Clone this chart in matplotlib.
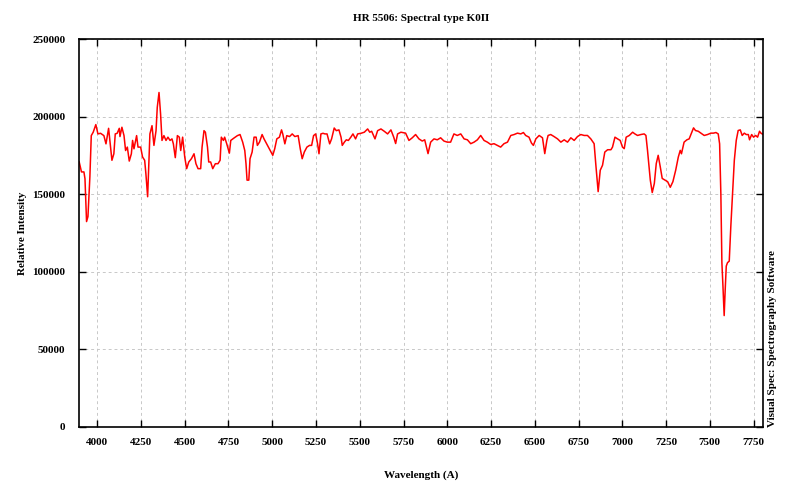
import matplotlib
matplotlib.use('Agg')
import matplotlib.pyplot as plt

# wavelength (A) and relative intensity
wavelength = [
    3897, 3910, 3924, 3930, 3939, 3947, 3958, 3966, 3977, 3992, 4004, 4019, 4038, 4050,
    4065, 4072, 4084, 4095, 4103, 4114, 4126, 4130, 4141, 4153, 4162, 4172, 4183, 4195,
    4202, 4210, 4225, 4233, 4248, 4259, 4271, 4278, 4288, 4297, 4301, 4313, 4324, 4336,
    4343, 4353, 4362, 4370, 4381, 4393, 4404, 4416, 4427, 4435, 4446, 4458, 4469, 4477,
    4488, 4500, 4511, 4523, 4538, 4553, 4564, 4576, 4591, 4599, 4610, 4618, 4630, 4637,
    4648, 4660, 4675, 4690, 4702, 4709, 4721, 4728, 4740, 4755, 4763, 4782, 4801, 4816,
    4831, 4843, 4850, 4856, 4866, 4873, 4885, 4896, 4908, 4915, 4927, 4942, 4953, 4973,
    4988, 5003, 5014, 5026, 5041, 5053, 5060, 5072, 5083, 5099, 5114, 5129, 5148, 5160,
    5171, 5183, 5198, 5213, 5225, 5236, 5248, 5259, 5267, 5278, 5290, 5301, 5313, 5328,
    5339, 5354, 5366, 5381, 5393, 5400, 5412, 5423, 5435, 5449, 5461, 5476, 5488, 5507,
    5526, 5545, 5557, 5568, 5587, 5602, 5621, 5640, 5659, 5678, 5694, 5705, 5716, 5735,
    5762, 5781, 5800, 5819, 5838, 5857, 5871, 5890, 5905, 5924, 5943, 5962, 5981, 6000,
    6019, 6038, 6057, 6077, 6096, 6115, 6134, 6153, 6172, 6191, 6210, 6229, 6248, 6267,
    6286, 6305, 6324, 6344, 6363, 6382, 6401, 6420, 6435, 6448, 6467, 6481, 6492, 6506,
    6525, 6544, 6557, 6569, 6576, 6591, 6610, 6630, 6649, 6668, 6687, 6706, 6725, 6744,
    6763, 6782, 6801, 6820, 6839, 6849, 6862, 6874, 6887, 6900, 6916, 6935, 6944, 6958,
    6973, 6988, 7001, 7011, 7022, 7040, 7059, 7072, 7087, 7106, 7125, 7135, 7144, 7160,
    7171, 7183, 7194, 7205, 7217, 7228, 7244, 7259, 7274, 7289, 7305, 7320, 7331, 7338,
    7353, 7369, 7382, 7395, 7407, 7418, 7434, 7449, 7468, 7487, 7506, 7521, 7535, 7548,
    7556, 7563, 7569, 7575, 7582, 7588, 7594, 7601, 7611, 7620, 7630, 7640, 7651, 7662,
    7674, 7685, 7697, 7708, 7720, 7727, 7739, 7750, 7762, 7773, 7784, 7792, 7805,
]
intensity = [
    170800, 164400, 164400, 160000, 132400, 135600, 161200, 187800, 190000, 194900, 188900, 189300, 187800, 182500,
    192500, 184700, 171900, 176100, 188900, 189300, 192500, 187200, 193200, 187800, 178200, 180400, 171400, 176100,
    184700, 179300, 187800, 180400, 180400, 174000, 171900, 163300, 148400, 176100, 188900, 194200, 181500, 191000,
    206000, 215600, 201700, 184700, 187800, 184700, 186800, 184700, 185700, 182500, 173600, 187800, 186800, 178200,
    186800, 174000, 166500, 170800, 172900, 176100, 169700, 166500, 166500, 180400, 191000, 190000, 180400, 170800,
    170800, 166500, 169700, 169700, 171900, 186800, 184700, 186800, 182500, 176500, 184700, 186300, 187800, 188500,
    183600, 178200, 169700, 159100, 159100, 172900, 177200, 186800, 186800, 181500, 183600, 188500, 185700, 181500,
    178200, 175100, 179300, 185700, 186800, 191500, 188900, 182500, 187800, 187200, 188900, 187200, 187800, 179300,
    172900, 177200, 180400, 181500, 181500, 187800, 188900, 182500, 176100, 188900, 189300, 188900, 188900, 182500,
    185700, 192700, 191000, 191500, 186800, 181500, 183600, 185100, 184700, 186800, 188900, 185700, 188900, 189300,
    190000, 192100, 190000, 190600, 185700, 191000, 192100, 190600, 188900, 191500, 186800, 182700, 188900, 190000,
    189400, 184700, 186400, 188500, 185700, 184300, 185100, 176200, 183600, 185700, 185100, 186400, 184300, 183600,
    183600, 188900, 187900, 188900, 185700, 185100, 182600, 183600, 185100, 187900, 184700, 183600, 182100, 182600,
    181500, 180400, 182600, 183600, 187900, 188500, 189400, 188900, 189800, 187900, 186800, 183000, 181500, 185700,
    187900, 186400, 176200, 184700, 187900, 188500, 187200, 185700, 183600, 185100, 183600, 186400, 184700, 187200,
    188500, 187900, 187900, 185700, 182600, 168700, 151700, 165500, 168700, 177200, 178700, 178700, 180400, 186800,
    185700, 184700, 180400, 179400, 186800, 187900, 190000, 188900, 187900, 188500, 188900, 187900, 178300, 159100,
    151100, 157000, 169800, 175100, 167600, 160200, 159100, 158100, 154500, 158100, 165500, 174000, 178300, 176100,
    183600, 185100, 185700, 189400, 192800, 191100, 190600, 189400, 187900, 188500, 189400, 189400, 189800, 188900,
    182500, 150600, 105900, 90900, 71800, 88800, 103700, 105900, 106900, 129300, 150600, 171900, 184700, 191100,
    191500, 187900, 189400, 188500, 188500, 185100, 188500, 186800, 187900, 186800, 190600, 189400, 188500,
]

x_ticks = [4000, 4250, 4500, 4750, 5000, 5250, 5500, 5750, 6000, 6250, 6500, 6750, 7000, 7250, 7500, 7750]
y_ticks = [0, 50000, 100000, 150000, 200000, 250000]

plt.rcParams['font.family'] = ['Liberation Serif', 'DejaVu Serif']
plt.rcParams['font.weight'] = 'bold'

fig = plt.figure(figsize=(8, 4.83), dpi=100)
ax = fig.add_axes([0.099, 0.116, 0.855, 0.803])

ax.plot(wavelength, intensity, color='#ff0000', linewidth=1.1)

ax.set_xlim(3897, 7805)
ax.set_ylim(0, 250000)
ax.set_xticks(x_ticks)
ax.set_yticks(y_ticks)
ax.tick_params(direction='in', top=True, right=True, length=5, width=1,
               labelsize=8)
ax.tick_params(axis='x', pad=8)
ax.tick_params(axis='y', pad=10)
for lbl in ax.get_xticklabels() + ax.get_yticklabels():
    lbl.set_fontweight('bold')

ax.grid(True, color='#c8c8c8', linestyle=(0, (3, 3)), linewidth=0.7)
for sp in ax.spines.values():
    sp.set_linewidth(1.2)

ax.set_title('HR 5506: Spectral type K0II', fontsize=8, fontweight='bold', pad=13)
ax.set_xlabel('Wavelength (A)', fontsize=8, fontweight='bold', labelpad=17)
ax.set_ylabel('Relative Intensity', fontsize=8, fontweight='bold', labelpad=4)

fig.text(0.966, 0.116, 'Visual Spec: Spectrography Software', rotation=90,
         ha='center', va='bottom', fontsize=8, fontweight='bold')

fig.savefig('out.png', dpi=100)
